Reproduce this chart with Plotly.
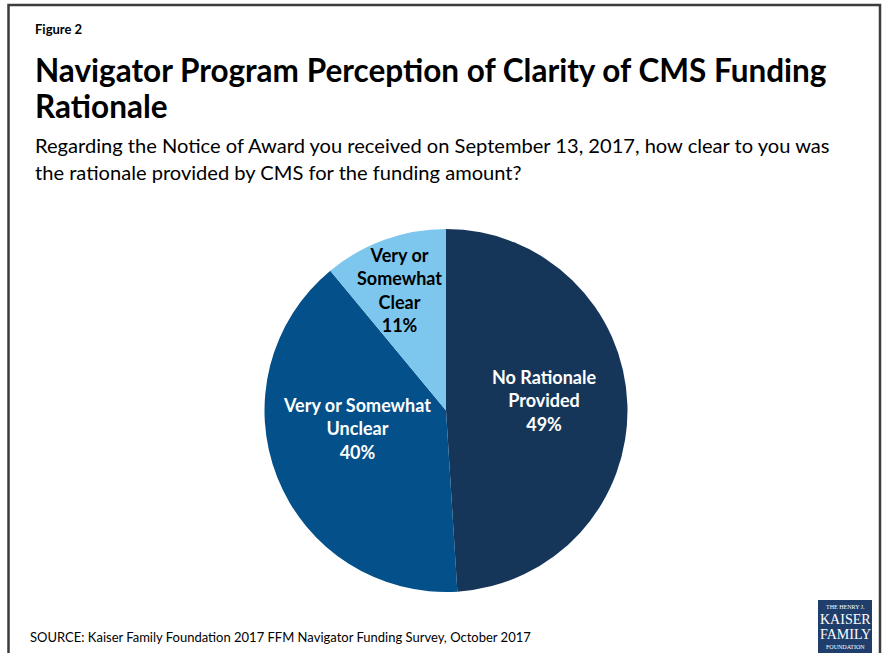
import math
import plotly.graph_objects as go

# Survey responses (share of navigator programs)
categories = ["No Rationale Provided", "Very or Somewhat Unclear", "Very or Somewhat Clear"]
label_lines = ["No Rationale<br>Provided", "Very or Somewhat<br>Unclear", "Very or<br>Somewhat<br>Clear"]
values = [49, 40, 11]
colors = ["#163659", "#03508A", "#7DC7EE"]
text_colors = ["white", "white", "black"]

W, H = 883, 653
FONT = "Lato"

fig = go.Figure()

# pie placement in pixels -> paper domain
cx, cy, r = 446, 410.5, 181.5
fig.add_trace(go.Pie(
    labels=categories,
    values=values,
    textinfo="none",
    marker=dict(colors=colors, line=dict(width=0)),
    sort=False,
    direction="clockwise",
    rotation=0,
    showlegend=False,
    hoverinfo="label+percent",
    domain=dict(x=[(cx - r) / W, (cx + r) / W], y=[(H - cy - r) / H, (H - cy + r) / H]),
))

annotations = [
    dict(text="<b>Figure 2</b>", x=33, y=29, font=dict(size=13)),
    dict(text="<b>Navigator Program Perception of Clarity of CMS Funding</b>", x=33, y=70, font=dict(size=31.5)),
    dict(text="<b>Rationale</b>", x=33, y=106, font=dict(size=31.5)),
    dict(text="Regarding the Notice of Award you received on September 13, 2017, how clear to you was",
         x=33, y=145, font=dict(size=20.1)),
    dict(text="the rationale provided by CMS for the funding amount?", x=33, y=172, font=dict(size=20.1)),
    dict(text="SOURCE: Kaiser Family Foundation 2017 FFM Navigator Funding Survey, October 2017",
         x=28, y=637, font=dict(size=13)),
]
layout_ann = []
for a in annotations:
    layout_ann.append(dict(
        text=a["text"], x=a["x"] / W, y=1 - a["y"] / H, xref="paper", yref="paper",
        xanchor="left", yanchor="middle", showarrow=False,
        font=dict(family=FONT, color="black", **a["font"]),
    ))

# slice labels, placed along each slice's mid-angle (clockwise from 12 o'clock)
radial_frac = [0.543, 0.5, 0.711]
angle_shift = [-4.3, 10, -1.1]
total = sum(values)
start = 0.0
for i, v in enumerate(values):
    mid = (start + v / 2) / total * 360 + angle_shift[i]
    start += v
    rad = math.radians(mid)
    px = cx + radial_frac[i] * r * math.sin(rad)
    py = cy - radial_frac[i] * r * math.cos(rad)
    layout_ann.append(dict(
        text=f"<b>{label_lines[i]}<br>{v}%</b>", x=px / W, y=1 - py / H,
        xref="paper", yref="paper", xanchor="center", yanchor="middle", showarrow=False,
        align="center", font=dict(family=FONT, size=18, color=text_colors[i]),
    ))

# foundation logo block
logo_x0, logo_x1, logo_y0, logo_y1 = 818, 872, 600, 653
logo_lines = [("THE HENRY J.", 6, 607), ("KAISER", 14, 619), ("FAMILY", 14, 634), ("FOUNDATION", 6, 647)]
for t, s, y in logo_lines:
    layout_ann.append(dict(
        text=t, x=(logo_x0 + logo_x1) / 2 / W, y=1 - y / H, xref="paper", yref="paper",
        xanchor="center", yanchor="middle", showarrow=False,
        font=dict(family="Liberation Serif", size=s, color="white"),
    ))

shapes = [
    dict(type="rect", xref="paper", yref="paper",
         x0=8.5 / W, x1=880 / W, y0=-0.05, y1=1 - 5 / H,
         line=dict(color="#3c3c3c", width=2.5), fillcolor="rgba(0,0,0,0)", layer="below"),
    dict(type="rect", xref="paper", yref="paper",
         x0=logo_x0 / W, x1=logo_x1 / W, y0=1 - logo_y1 / H, y1=1 - logo_y0 / H,
         line=dict(width=0), fillcolor="#1F3E6C", layer="below"),
]

fig.update_layout(
    width=W, height=H,
    margin=dict(l=0, r=0, t=0, b=0),
    paper_bgcolor="white", plot_bgcolor="white",
    annotations=layout_ann,
    shapes=shapes,
    font=dict(family=FONT),
)

fig.write_html("out.html")
